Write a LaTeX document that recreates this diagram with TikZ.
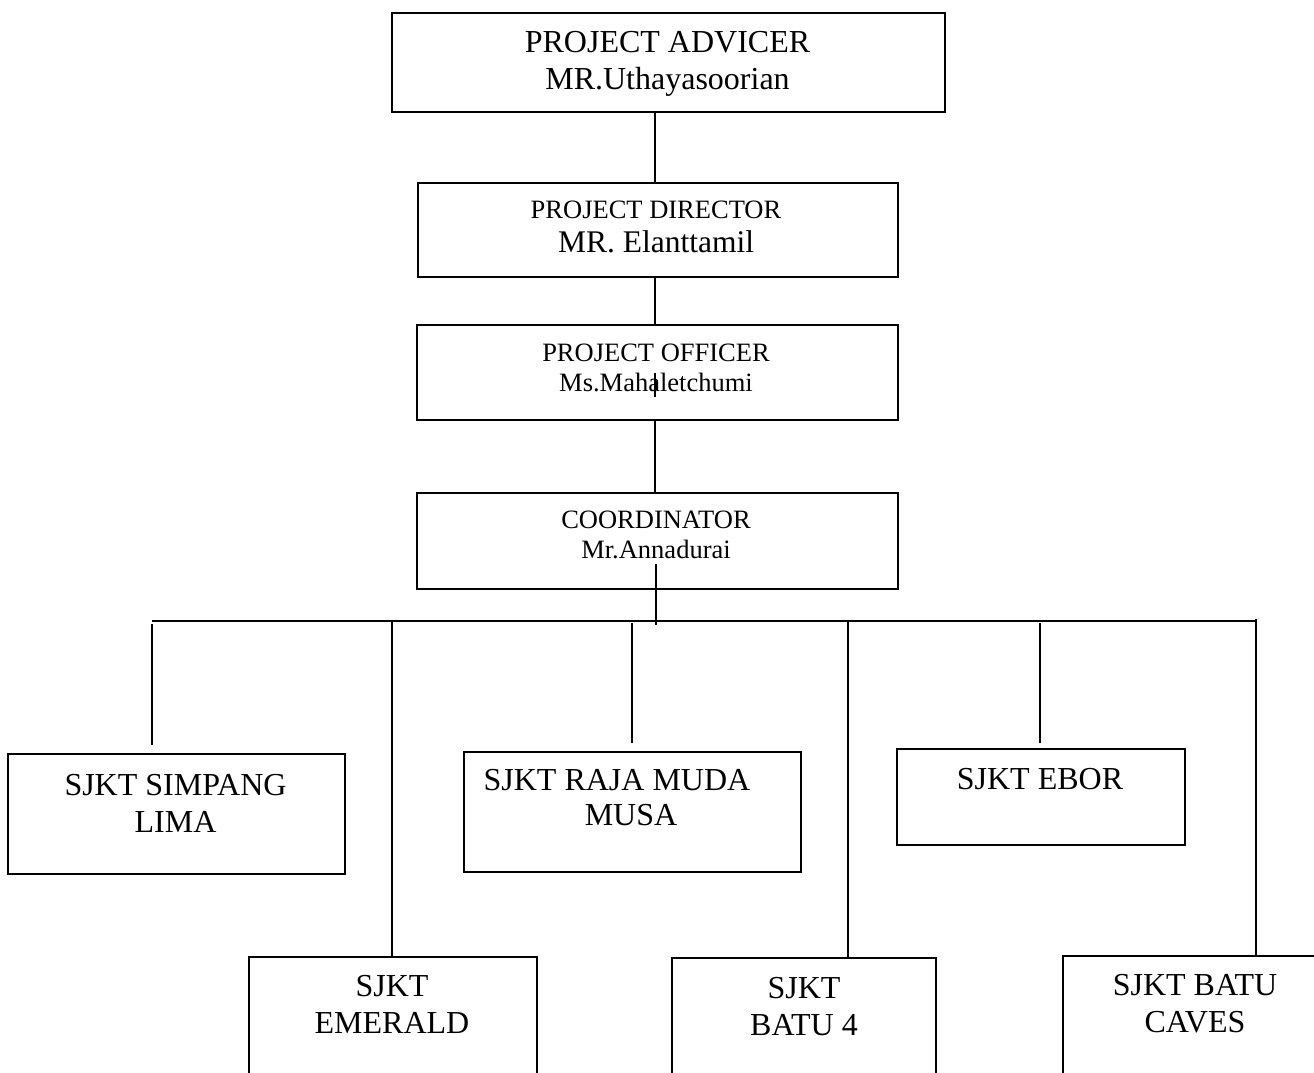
\documentclass[tikz,border=0pt]{standalone}
\usepackage{fontspec}
\setmainfont{Liberation Serif}
\begin{document}
\begin{tikzpicture}[x=1pt,y=-1pt,
  box/.style={draw=black,line width=1.9pt,anchor=north west,inner sep=0pt},
  link/.style={draw=black,line width=1.9pt},
  big/.style={font=\fontsize{32}{37}\selectfont,align=center,inner sep=0pt},
  small/.style={font=\fontsize{26.5}{30}\selectfont,align=center,inner sep=0pt}]
\useasboundingbox (0,0) rectangle (1314,1072);
\clip (0,0) rectangle (1314,1072);
% boxes
\node[box,minimum width=553pt,minimum height=99pt] (b1) at (391,12) {};
\node[box,minimum width=480pt,minimum height=94pt] (b2) at (417,182) {};
\node[box,minimum width=481pt,minimum height=95pt] (b3) at (416,324) {};
\node[box,minimum width=481pt,minimum height=96pt] (b4) at (416,492) {};
\node[box,minimum width=337pt,minimum height=120pt] (s1) at (7,753) {};
\node[box,minimum width=337pt,minimum height=120pt] (s2) at (463,751) {};
\node[box,minimum width=288pt,minimum height=96pt] (s3) at (896,748) {};
\node[box,minimum width=288pt,minimum height=140pt] (s4) at (248,956) {};
\node[box,minimum width=264pt,minimum height=140pt] (s5) at (671,957) {};
\node[box,minimum width=280pt,minimum height=140pt] (s6) at (1062,955) {};
% texts
\node[big] (t1) at (667.5,64) {PROJECT ADVICER\\MR.Uthayasoorian};
\node[small] (t2) at (656,227) {PROJECT DIRECTOR\\[4pt]{\fontsize{31.5}{34}\selectfont MR. Elanttamil}};
\node[small] (t3) at (656,368) {PROJECT OFFICER\\Ms.Mahaletchumi};
\node[small] (t4) at (656,535) {COORDINATOR\\Mr.Annadurai};
\node[big] (u1) at (175.5,803) {SJKT SIMPANG\\LIMA};
\node[big] (u2) at (631,798) {SJKT RAJA MUDA\hspace*{28pt}\\[-2pt]MUSA};
\node[big] (u3) at (1040,779) {SJKT EBOR};
\node[big] (u4) at (392,1004.5) {SJKT\\EMERALD};
\node[big] (u5) at (804,1006.5) {SJKT\\BATU 4};
\node[big] (u6) at (1195,1003.5) {SJKT BATU\\CAVES};
% connector points
\coordinate (a1) at (655,111);
\coordinate (a2) at (655,182);
\coordinate (a3) at (655,276);
\coordinate (a4) at (655,324);
\coordinate (m1) at (655,373);
\coordinate (m2) at (655,397);
\coordinate (a5) at (655,419);
\coordinate (a6) at (655,492);
\coordinate (c1) at (656,564);
\coordinate (c2) at (656,625);
\coordinate (busL) at (152,621);
\coordinate (busR) at (1256,621);
\coordinate (d1a) at (152,624);  \coordinate (d1b) at (152,745);
\coordinate (d2a) at (632,623);  \coordinate (d2b) at (632,743);
\coordinate (d3a) at (1040,623); \coordinate (d3b) at (1040,743);
\coordinate (d4a) at (392,621);
\coordinate (d5a) at (848,621);
\coordinate (d6a) at (1256,619);
% connectors
\draw[link] (a1) -- (a2);
\draw[link] (a3) -- (a4);
\draw[link] (m1) -- (m2);
\draw[link] (a5) -- (a6);
\draw[link] (c1) -- (c2);
\draw[link] (busL) -- (busR);
\draw[link] (d1a) -- (d1b);
\draw[link] (d2a) -- (d2b);
\draw[link] (d3a) -- (d3b);
\draw[link] (d4a) -- (d4a |- s4.north);
\draw[link] (d5a) -- (d5a |- s5.north);
\draw[link] (d6a) -- (d6a |- s6.north);
\end{tikzpicture}
\end{document}
